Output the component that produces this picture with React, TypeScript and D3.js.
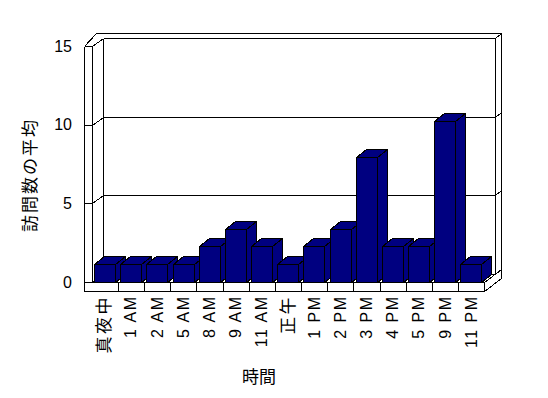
import React from "react";
import * as d3 from "d3";

const categories = ["真夜中", "1 AM", "2 AM", "5 AM", "8 AM", "9 AM", "11 AM", "正午", "1 PM", "2 PM", "3 PM", "4 PM", "5 PM", "9 PM", "11 PM"];
const values = [1.13, 1.13, 1.13, 1.13, 2.27, 3.4, 2.27, 1.13, 2.27, 3.4, 7.97, 2.27, 2.27, 10.25, 1.13];
const yTicks = [0, 5, 10, 15];
const yTitle = "訪問数の平均";
const xTitle = "時間";

const FONT = "'Liberation Sans', Arial, 'Noto Sans CJK JP', sans-serif";
const CJK = /[\u3000-\u9fff]/;

export default function App() {
  const W = 548, H = 398;
  const x0 = 91.7, x1 = 484.3;
  const leftX = 84;
  const floorBottom = 291;
  const y = d3.scaleLinear().domain([0, 15]).range([282, 46]);
  const x = d3.scaleBand<string>().domain(categories).range([x0, x1]).paddingInner(0.18).paddingOuter(0.09);
  const step = (x1 - x0) / categories.length;
  const WDX = 11, WDY = -8; // wall depth
  const TDX = 6, TDY = -5; // back wall thickness
  const BDX = 10, BDY = -8; // bar depth
  const s = (v: number) => Math.round(v) + 0.5;
  const line = (a: number, b: number, c: number, d: number, k: string) => (
    <line key={k} x1={s(a)} y1={s(b)} x2={s(c)} y2={s(d)} stroke="#000" strokeWidth={1} />
  );
  const y0 = y(0);
  const yTop = y(15);
  const bx0 = x0 + WDX, bx1 = x1 + WDX;

  const navy = "#000080";

  return (
    <svg width={W} height={H} style={{ position: "absolute", left: 0, top: 0, background: "#fff" }} shapeRendering="crispEdges">
      <rect x={0} y={0} width={W} height={H} fill="#fff" />
      {/* walls */}
      {line(leftX, y(15), leftX + 12, yTop + WDY + TDY, "outerDiag")}
      {line(leftX + 12, yTop + WDY + TDY, bx1 + TDX, yTop + WDY + TDY, "outerTop")}
      {line(bx1 + TDX, yTop + WDY + TDY, bx1 + TDX, y0 + WDY + TDY + 9, "outerRight")}
      {line(bx0, yTop + WDY, bx0, y0 + WDY, "backLeft")}
      {line(bx1, yTop + WDY, bx1, y0 + WDY, "backRight")}
      {yTicks.map((t) => (
        <g key={"g" + t}>
          {line(leftX, y(t), x0, y(t), "tf" + t)}
          {line(x0, y(t), bx0, y(t) + WDY, "td" + t)}
          {line(bx0, y(t) + WDY, bx1, y(t) + WDY, "tb" + t)}
          {line(bx1, y(t) + WDY, bx1 + TDX, y(t) + WDY + TDY, "tr" + t)}
        </g>
      ))}
      {/* left wall front face */}
      {line(leftX, y(15), leftX, floorBottom, "lwOuter")}
      {line(x0, y(15), x0, y0, "lwInner")}
      {/* floor */}
      {line(leftX, y0, x1, y0, "floorTop")}
      {line(leftX, floorBottom, x1, floorBottom, "floorBottom")}
      {line(x1, y0, x1, floorBottom, "floorRightV")}
      {line(x1, y0, bx1 + TDX, y0 + WDY + TDY, "floorRD1")}
      {line(x1, floorBottom, bx1 + TDX, floorBottom + WDY + TDY, "floorRD2")}
      {categories.map((c, i) =>
        i > 0 ? line(x0 + i * step, y0, x0 + i * step, floorBottom, "div" + i) : null
      )}
      {/* bars */}
      {categories.map((c, i) => {
        const xf = Math.round(x(c)!);
        const w = Math.round(x.bandwidth());
        const yt = Math.round(y(values[i]));
        const yb = Math.round(y0);
        const top = [[xf, yt], [xf + w, yt], [xf + w + BDX, yt + BDY], [xf + BDX, yt + BDY]];
        const side = [[xf + w, yt], [xf + w + BDX, yt + BDY], [xf + w + BDX, yb + BDY], [xf + w, yb]];
        const pts = (a: number[][]) => a.map((p) => `${p[0] + 0.5},${p[1] + 0.5}`).join(" ");
        return (
          <g key={"bar" + i}>
            <polygon points={pts(side)} fill={navy} stroke="#000" strokeWidth={1} />
            <polygon points={pts(top)} fill={navy} stroke="#000" strokeWidth={1} />
            <rect x={xf + 0.5} y={yt + 0.5} width={w} height={yb - yt} fill={navy} stroke="#000" strokeWidth={1} />
          </g>
        );
      })}
      {/* labels */}
      <g shapeRendering="auto">
        {yTicks.map((t) => (
          <text key={"yl" + t} x={72} y={y(t)} textAnchor="end" dominantBaseline="central" fontFamily={FONT} fontSize={16} fill="#000">
            {t}
          </text>
        ))}
        {categories.map((c) => {
          const cx = x(c)! + x.bandwidth() / 2;
          const cjk = CJK.test(c);
          return (
            <text
              key={"xl" + c}
              transform={`translate(${cx},${cjk ? 295 : 295.5}) rotate(-90)`}
              textAnchor="end"
              dominantBaseline="central"
              fontFamily={FONT}
              fontSize={cjk ? 17 : 16}
              letterSpacing={cjk ? 2.5 : 1.5}
              fill="#000"
            >
              {c}
            </text>
          );
        })}
        <text x={259} y={383} textAnchor="middle" fontFamily={FONT} fontSize={17} fill="#000">
          {xTitle}
        </text>
        <text transform={`translate(30,175) rotate(-90)`} textAnchor="middle" dominantBaseline="central" fontFamily={FONT} fontSize={17} letterSpacing={2} fill="#000">
          {yTitle}
        </text>
      </g>
    </svg>
  );
}
